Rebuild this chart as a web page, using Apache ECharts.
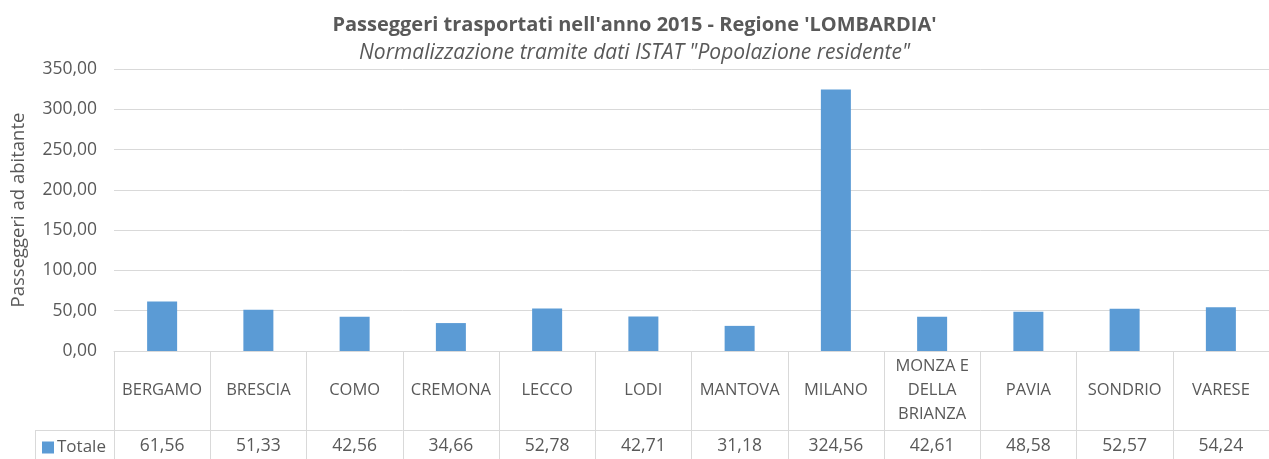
<!DOCTYPE html>
<html>
<head>
<meta charset="utf-8">
<title>Passeggeri trasportati 2015 - Lombardia</title>
<script src="https://cdn.jsdelivr.net/npm/echarts@6/dist/echarts.min.js"></script>
<style>
  html, body { margin: 0; padding: 0; background: #fff; }
  #chart { width: 1269px; height: 459px; }
</style>
</head>
<body>
<div id="chart"></div>
<script>
  // dati
  var province = ['BERGAMO', 'BRESCIA', 'COMO', 'CREMONA', 'LECCO', 'LODI', 'MANTOVA', 'MILANO',
    'MONZA E\nDELLA\nBRIANZA', 'PAVIA', 'SONDRIO', 'VARESE']
  var totale = [61.56, 51.33, 42.56, 34.66, 52.78, 42.71, 31.18, 324.56, 42.61, 48.58, 52.57, 54.24]
  var yTicks = [0, 50, 100, 150, 200, 250, 300, 350]

  function virgola (v) {
    return v.toFixed(2).replace('.', ',')
  }

  var grigio = '#595959'
  var linea = '#d9d9d9'
  var font = '"Open Sans", sans-serif'

  var myChart = echarts.init(document.getElementById('chart'))
  var option = {
    animation: false,
    textStyle: { fontFamily: font },
    title: {
      left: 'center',
      top: 10,
      itemGap: 8,
      text: "Passeggeri trasportati nell'anno 2015 - Regione 'LOMBARDIA'",
      subtext: 'Normalizzazione tramite dati ISTAT "Popolazione residente"',
      textStyle: { fontFamily: font, fontSize: 20, fontWeight: 'bold', color: grigio },
      subtextStyle: { fontFamily: font, fontSize: 21, fontStyle: 'italic', color: grigio }
    },
    legend: {
      left: 42,
      top: 439,
      padding: 0,
      itemWidth: 12,
      itemHeight: 12,
      itemGap: 4,
      icon: 'rect',
      data: ['Totale'],
      textStyle: { fontFamily: font, fontSize: 17, color: grigio, padding: [0, 0, 0, -2] }
    },
    grid: {
      left: 114,
      right: 0,
      top: 69,
      bottom: 108
    },
    xAxis: [
      {
        type: 'category',
        data: province,
        axisLine: { show: true, lineStyle: { color: linea } },
        axisTick: { show: true, length: 108, lineStyle: { color: linea } },
        axisLabel: {
          margin: 39,
          verticalAlign: 'middle',
          lineHeight: 24,
          fontFamily: font,
          fontSize: 16.5,
          color: grigio,
          interval: 0
        },
        splitLine: { show: false }
      },
      {
        type: 'category',
        position: 'bottom',
        offset: 79,
        data: totale.map(virgola),
        axisLine: { show: true, lineStyle: { color: linea } },
        axisTick: { show: false },
        axisLabel: {
          margin: 16,
          verticalAlign: 'middle',
          fontFamily: font,
          fontSize: 17.5,
          color: grigio,
          interval: 0
        }
      }
    ],
    yAxis: {
      type: 'value',
      min: yTicks[0],
      max: yTicks[yTicks.length - 1],
      interval: 50,
      name: 'Passeggeri ad abitante',
      nameLocation: 'middle',
      nameGap: 86,
      nameTextStyle: { fontFamily: font, fontSize: 18.5, color: grigio },
      axisLine: { show: false },
      axisTick: { show: false },
      axisLabel: {
        margin: 17,
        fontFamily: font,
        fontSize: 17.5,
        color: grigio,
        formatter: function (v) { return virgola(v) }
      },
      splitLine: { lineStyle: { color: linea } }
    },
    graphic: [
      {
        type: 'line',
        shape: { x1: 35, y1: 430.5, x2: 114, y2: 430.5 },
        style: { stroke: linea, lineWidth: 1 }
      },
      {
        type: 'line',
        shape: { x1: 35.5, y1: 430, x2: 35.5, y2: 459 },
        style: { stroke: linea, lineWidth: 1 }
      }
    ],
    series: [
      {
        name: 'Totale',
        type: 'bar',
        barWidth: 30,
        itemStyle: { color: '#5b9bd5' },
        data: totale
      }
    ]
  }
  myChart.setOption(option)
</script>
</body>
</html>
